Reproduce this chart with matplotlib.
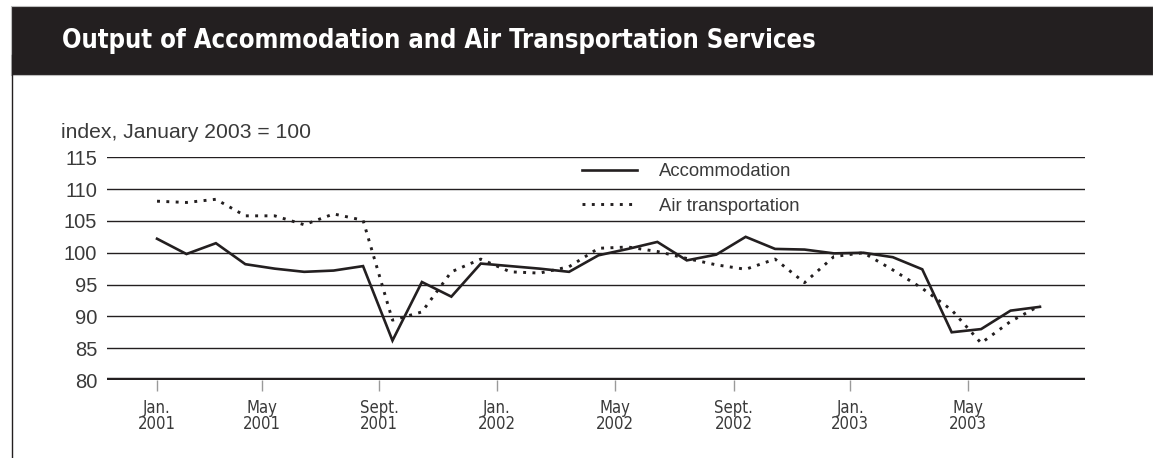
import matplotlib
matplotlib.use("Agg")
import matplotlib.pyplot as plt
from matplotlib.patches import Rectangle
from matplotlib.lines import Line2D

# Monthly index values, January 2001 to July 2003 (January 2003 = 100)
months = list(range(31))
accommodation = [102.2, 99.8, 101.5, 98.2, 97.5, 97.0, 97.2, 97.9, 86.2, 95.4,
                 93.1, 98.3, 97.9, 97.5, 97.0, 99.6, 100.6, 101.7, 98.8, 99.7,
                 102.5, 100.6, 100.5, 99.9, 100.0, 99.3, 97.4, 87.5, 88.0, 90.9,
                 91.5]
air_transportation = [108.1, 107.9, 108.4, 105.8, 105.8, 104.4, 106.1, 105.1,
                      89.4, 90.7, 97.0, 99.0, 97.0, 96.8, 97.8, 100.7, 100.9,
                      100.2, 99.1, 98.1, 97.4, 99.0, 95.3, 99.4, 100.0, 97.3,
                      94.4, 91.0, 85.8, 89.2, 91.7]

tick_positions = [0, 3.55, 7.55, 11.55, 15.55, 19.6, 23.55, 27.55]
tick_labels = ["Jan.\n2001", "May\n2001", "Sept.\n2001", "Jan.\n2002",
               "May\n2002", "Sept.\n2002", "Jan.\n2003", "May\n2003"]
y_ticks = [80, 85, 90, 95, 100, 105, 110, 115]

W, H = 1153, 458
fig = plt.figure(figsize=(W / 100, H / 100), dpi=100)
fig.patch.set_facecolor("white")

dark = "#231f20"
text_col = "#3a3a3a"
body_font = "Liberation Sans"

# Title banner
fig.add_artist(Rectangle((11 / W, 1 - 75 / H), (W - 11) / W, 69 / H,
                         transform=fig.transFigure, facecolor=dark,
                         edgecolor="#bdbdbd", linewidth=0.8, zorder=0))
fig.text(62 / W, 1 - 41 / H, "Output of Accommodation and Air Transportation Services",
         color="white", fontsize=18.4, fontweight="bold", fontstretch="condensed",
         family="DejaVu Sans", va="center", ha="left")
# Left frame rule
fig.add_artist(Line2D([11.5 / W, 11.5 / W], [0, 1 - 55 / H],
                      transform=fig.transFigure, color=dark, linewidth=1.0))

fig.text(61 / W, 1 - 132 / H, "index, January 2003 = 100", color=text_col,
         fontsize=15.2, family=body_font, va="center", ha="left")

ax = fig.add_axes([107 / W, 78 / H, 978 / W, 222.7 / H])
ax.set_xlim(-1.70, 31.53)
ax.set_ylim(80, 115)

for v in y_ticks[1:]:
    ax.axhline(v, color=dark, linewidth=1.0, zorder=1)
ax.axhline(80, color=dark, linewidth=3.2, zorder=3)

ax.plot(months, accommodation, color=dark, linewidth=1.9, zorder=4,
        solid_joinstyle="miter", label="Accommodation")
ax.plot(months, air_transportation, color=dark, linewidth=2.1,
        linestyle=(0, (1, 2.2)), zorder=4, label="Air transportation")

for s in ax.spines.values():
    s.set_visible(False)

ax.set_yticks(y_ticks)
ax.set_yticklabels([str(v) for v in y_ticks])
ax.tick_params(axis="y", length=0, pad=7, labelsize=14.5, labelcolor=text_col)
for lbl in ax.get_yticklabels():
    lbl.set_family(body_font)

ax.set_xticks(tick_positions)
ax.set_xticklabels(tick_labels)
ax.tick_params(axis="x", length=8, width=1.0, color="#9a9a9a", pad=6,
               labelsize=12, labelcolor=text_col)
for lbl in ax.get_xticklabels():
    lbl.set_family("DejaVu Sans")
    lbl.set_fontstretch("condensed")
    lbl.set_fontweight("light")
    lbl.set_linespacing(0.82)

leg = ax.legend(loc="upper left", bbox_to_anchor=(475 / 978, 1 - 6 / 222.7),
                frameon=False, handlelength=3.0, handletextpad=1.15,
                labelspacing=0.95, borderaxespad=0, borderpad=0,
                prop={"family": body_font, "size": 13.3})
for t in leg.get_texts():
    t.set_color(text_col)

fig.savefig("out.png", dpi=100, facecolor="white")
